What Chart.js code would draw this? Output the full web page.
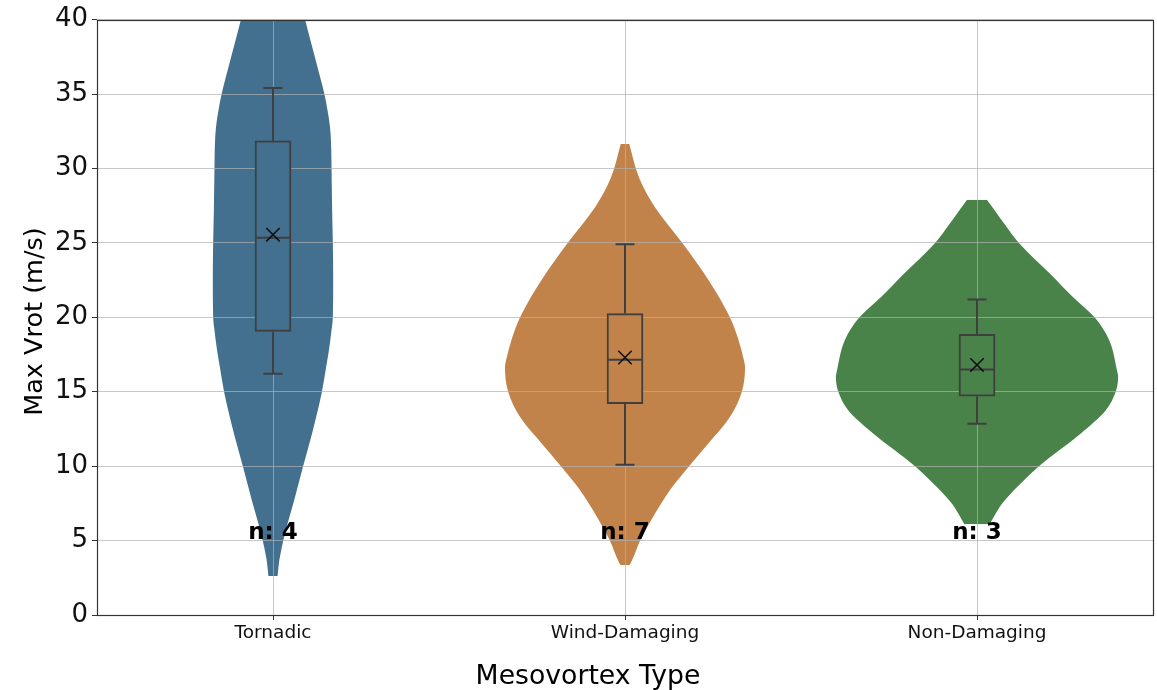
<!DOCTYPE html>
<html>
<head>
<meta charset="utf-8">
<title>Max Vrot by Mesovortex Type</title>
<script src="https://cdn.jsdelivr.net/npm/chart.js@4/dist/chart.umd.min.js"></script>
<style>
  html, body { margin: 0; padding: 0; background: #ffffff; }
  canvas { display: block; }
</style>
</head>
<body>
<canvas id="chart" width="1157" height="690"></canvas>
<script>
// Categories and sample sizes
const categories = ['Tornadic', 'Wind-Damaging', 'Non-Damaging'];
const sampleCounts = [4, 7, 3];
const violinColors = ['#42708e', '#c2834a', '#4a834a'];

// Kernel density outlines: Max Vrot level (m/s) and violin half-width (category units)
const tornadicLevels    = [2.62, 3.69, 5.48, 7.7, 9.95, 12.2, 15.0, 16.66, 17.8, 18.9, 20.0, 22.7, 25.0, 27.18, 30.54, 31.66, 32.77, 33.89, 35.01, 36.13, 38.37, 40.0];
const tornadicHalfWidth = [0.013, 0.018, 0.034, 0.060, 0.085, 0.111, 0.139, 0.151, 0.159, 0.165, 0.170, 0.171, 0.170, 0.168, 0.166, 0.165, 0.162, 0.155, 0.146, 0.134, 0.109, 0.091];

const windLevels    = [3.36, 3.47, 5.0, 6.6, 8.4, 10.0, 11.5, 13.3, 15.0, 16.66, 17.1, 18.6, 20.0, 22.5, 24.95, 27.4, 28.75, 29.98, 30.76, 31.65];
const windHalfWidth = [0.013, 0.016, 0.043, 0.080, 0.128, 0.182, 0.236, 0.298, 0.332, 0.341, 0.338, 0.321, 0.298, 0.237, 0.164, 0.085, 0.052, 0.031, 0.022, 0.012];

const nonDamLevels    = [6.1, 6.6, 7.5, 8.6, 10.0, 12.2, 13.76, 15.0, 16.0, 16.4, 18.5, 20.0, 21.4, 22.9, 25.0, 26.3, 27.2, 27.9];
const nonDamHalfWidth = [0.036, 0.048, 0.072, 0.114, 0.176, 0.295, 0.366, 0.394, 0.401, 0.398, 0.375, 0.334, 0.271, 0.209, 0.119, 0.077, 0.050, 0.028];

// Box-and-whisker summaries (m/s)
const whiskerLow  = [16.2, 10.1, 12.85];
const q1          = [19.05, 14.2, 14.7];
const median      = [25.35, 17.15, 16.5];
const q3          = [31.85, 20.25, 18.85];
const whiskerHigh = [35.4, 24.9, 21.2];
const means       = [25.55, 17.3, 16.8];

// Axis ticks and annotation level
const yTicks = [0, 5, 10, 15, 20, 25, 30, 35, 40];
const countLabelLevel = 5.5;

// ---- build the datasets ----
const CAP_HALF = 0.027;
const MEDIAN_HALF = 0.048;

const profiles = [
  [tornadicLevels, tornadicHalfWidth],
  [windLevels, windHalfWidth],
  [nonDamLevels, nonDamHalfWidth]
];

// Each violin: right edge filled across to its left edge, both smooth in y
const violinDatasets = [];
profiles.forEach(([levels, half], i) => {
  const pos = i + 1;
  const common = {
    type: 'line',
    indexAxis: 'y',
    cubicInterpolationMode: 'monotone',
    backgroundColor: violinColors[i],
    borderColor: 'rgba(0,0,0,0)',
    borderWidth: 0,
    pointRadius: 0,
    order: 4
  };
  violinDatasets.push(Object.assign({}, common, {
    label: categories[i] + ' right',
    data: levels.map((v, k) => ({ x: pos + half[k], y: v })),
    fill: '+1'
  }));
  violinDatasets.push(Object.assign({}, common, {
    label: categories[i] + ' left',
    data: levels.map((v, k) => ({ x: pos - half[k], y: v })),
    fill: false
  }));
});

const gap = () => ({ x: NaN, y: NaN });
const boxLines = [];
categories.forEach((name, i) => {
  const p = i + 1;
  boxLines.push(
    { x: p, y: q3[i] }, { x: p, y: whiskerHigh[i] }, gap(),
    { x: p - CAP_HALF, y: whiskerHigh[i] }, { x: p + CAP_HALF, y: whiskerHigh[i] }, gap(),
    { x: p, y: q1[i] }, { x: p, y: whiskerLow[i] }, gap(),
    { x: p - CAP_HALF, y: whiskerLow[i] }, { x: p + CAP_HALF, y: whiskerLow[i] }, gap(),
    { x: p - MEDIAN_HALF, y: median[i] }, { x: p + MEDIAN_HALF, y: median[i] }, gap()
  );
});

const boxDataset = {
  type: 'bar',
  label: 'IQR',
  data: categories.map((c, i) => ({ x: i + 1, y: [q1[i], q3[i]] })),
  backgroundColor: violinColors,
  borderColor: '#3f3f3f',
  borderWidth: 2,
  borderSkipped: false,
  barThickness: 36,
  order: 3
};

const whiskerDataset = {
  type: 'line',
  label: 'whiskers',
  data: boxLines,
  borderColor: '#3f3f3f',
  borderWidth: 2,
  pointRadius: 0,
  fill: false,
  spanGaps: false,
  tension: 0,
  order: 2
};

const meanDataset = {
  type: 'line',
  label: 'mean',
  data: means.map((m, i) => ({ x: i + 1, y: m })),
  showLine: false,
  pointStyle: 'crossRot',
  pointRadius: 9.5,
  pointBorderWidth: 1.6,
  pointBorderColor: '#111111',
  pointBackgroundColor: 'rgba(0,0,0,0)',
  order: 1
};

// Frame around the plotting area
const frame = {
  id: 'frame',
  afterDraw(chart) {
    const { ctx, chartArea: a } = chart;
    ctx.save();
    ctx.strokeStyle = '#333333';
    ctx.lineWidth = 1.2;
    ctx.strokeRect(Math.round(a.left) + 0.5, Math.round(a.top) + 0.5,
                   Math.round(a.right - a.left), Math.round(a.bottom - a.top));
    ctx.restore();
  }
};

// "n: N" labels under each violin
const countLabels = {
  id: 'countLabels',
  afterDatasetsDraw(chart) {
    const { ctx, scales: { x, y } } = chart;
    ctx.save();
    ctx.font = 'bold 23px "DejaVu Sans"';
    ctx.fillStyle = '#000000';
    ctx.textAlign = 'center';
    ctx.textBaseline = 'middle';
    sampleCounts.forEach((n, i) => {
      ctx.fillText('n: ' + n, x.getPixelForValue(i + 1), y.getPixelForValue(countLabelLevel));
    });
    ctx.restore();
  }
};

// Axis titles
const axisTitles = {
  id: 'axisTitles',
  afterDraw(chart) {
    const { ctx } = chart;
    ctx.save();
    ctx.fillStyle = '#000000';
    ctx.textAlign = 'center';
    ctx.textBaseline = 'middle';
    ctx.font = '26.7px "DejaVu Sans"';
    ctx.fillText('Mesovortex Type', 588, 677);
    ctx.translate(35, 321.5);
    ctx.rotate(-Math.PI / 2);
    ctx.font = '25.5px "DejaVu Sans"';
    ctx.fillText('Max Vrot (m/s)', 0, 0);
    ctx.restore();
  }
};

const gridColor = 'rgba(176,176,176,0.7)';

new Chart(document.getElementById('chart'), {
  type: 'line',
  data: { datasets: [meanDataset, whiskerDataset, boxDataset, ...violinDatasets] },
  options: {
    responsive: false,
    devicePixelRatio: 1,
    animation: false,
    events: [],
    layout: { autoPadding: false, padding: { top: 19, right: 4, left: 0, bottom: 0 } },
    plugins: {
      legend: { display: false },
      tooltip: { enabled: false },
      filler: { drawTime: 'beforeDraw' }
    },
    scales: {
      x: {
        type: 'linear',
        min: 0.5,
        max: 3.5,
        offset: false,
        afterBuildTicks: (axis) => { axis.ticks = categories.map((c, i) => ({ value: i + 1 })); },
        afterFit: (scale) => { scale.height = 75; },
        grid: { offset: false, color: gridColor, lineWidth: 1, drawTicks: true, tickLength: 5, tickColor: '#333333' },
        border: { display: false },
        ticks: {
          autoSkip: false,
          maxRotation: 0,
          padding: 2,
          color: '#111111',
          font: { family: 'DejaVu Sans', size: 18.5 },
          callback: (value) => categories[Math.round(value) - 1] || ''
        },
        title: { display: false }
      },
      y: {
        type: 'linear',
        min: 0,
        max: 40,
        afterBuildTicks: (axis) => { axis.ticks = yTicks.map(v => ({ value: v })); },
        afterFit: (scale) => { scale.width = 97; },
        grid: { color: gridColor, lineWidth: 1, drawTicks: true, tickLength: 5, tickColor: '#333333' },
        border: { display: false },
        ticks: {
          padding: 4,
          color: '#111111',
          font: { family: 'DejaVu Sans', size: 26 }
        },
        title: { display: false }
      }
    }
  },
  plugins: [frame, countLabels, axisTitles]
});
</script>
</body>
</html>
